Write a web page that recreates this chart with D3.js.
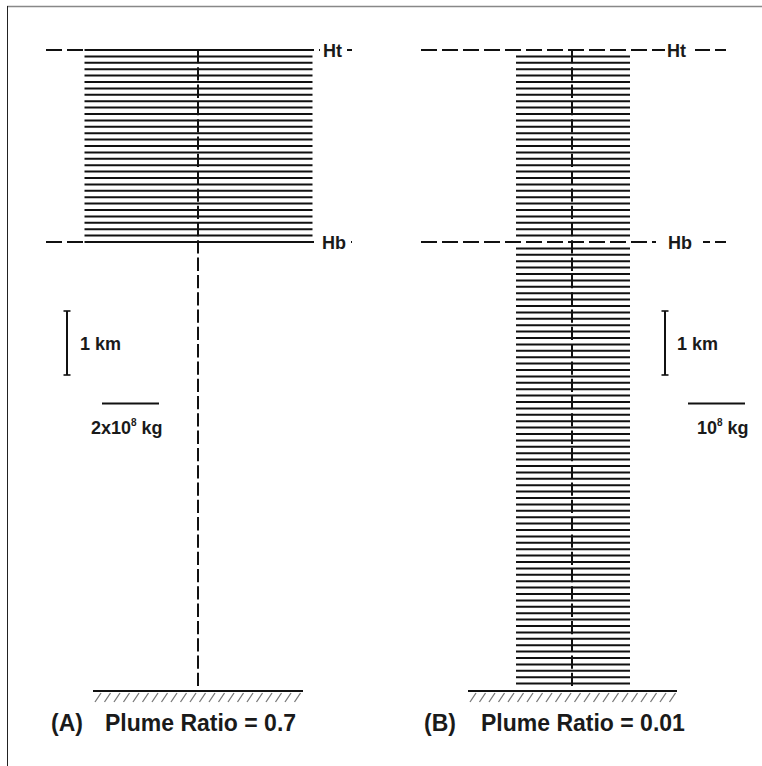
<!DOCTYPE html>
<html><head><meta charset="utf-8">
<script src="https://cdn.jsdelivr.net/npm/d3@7"></script>
<style>
body{margin:0;background:#fff}
svg{display:block;font-family:"Liberation Sans",Arial,Helvetica,sans-serif;font-weight:bold}
</style></head><body>
<script>
// ---- data (heights in km, layer mass in units of 1e8 kg) ----
const heightsA = [7.0,7.1,7.2,7.3,7.4,7.5,7.6,7.7,7.8,7.9,8.0,8.1,8.2,8.3,8.4,8.5,8.6,8.7,8.8,8.9,9.0,9.1,9.2,9.3,9.4,9.5,9.6,9.7,9.8,9.9,10.0];
const massA = [8,8,8,8,8,8,8,8,8,8,8,8,8,8,8,8,8,8,8,8,8,8,8,8,8,8,8,8,8,8,8];
const heightsB = [0.1,0.2,0.3,0.4,0.5,0.6,0.7,0.8,0.9,1.0,1.1,1.2,1.3,1.4,1.5,1.6,1.7,1.8,1.9,2.0,
  2.1,2.2,2.3,2.4,2.5,2.6,2.7,2.8,2.9,3.0,3.1,3.2,3.3,3.4,3.5,3.6,3.7,3.8,3.9,4.0,
  4.1,4.2,4.3,4.4,4.5,4.6,4.7,4.8,4.9,5.0,5.1,5.2,5.3,5.4,5.5,5.6,5.7,5.8,5.9,6.0,
  6.1,6.2,6.3,6.4,6.5,6.6,6.7,6.8,6.9,7.1,7.2,7.3,7.4,7.5,7.6,7.7,7.8,7.9,8.0,
  8.1,8.2,8.3,8.4,8.5,8.6,8.7,8.8,8.9,9.0,9.1,9.2,9.3,9.4,9.5,9.6,9.7,9.8,9.9];
const massB = [2,2,2,2,2,2,2,2,2,2,2,2,2,2,2,2,2,2,2,2,
  2,2,2,2,2,2,2,2,2,2,2,2,2,2,2,2,2,2,2,2,
  2,2,2,2,2,2,2,2,2,2,2,2,2,2,2,2,2,2,2,2,
  2,2,2,2,2,2,2,2,2,2,2,2,2,2,2,2,2,2,2,
  2,2,2,2,2,2,2,2,2,2,2,2,2,2,2,2,2,2,2];
const levelNames = ["Ht","Hb"];
const levelsKm = [10, 7];
const panelLabels = ["(A)","(B)"];
const panelTitles = ["Plume Ratio = 0.7","Plume Ratio = 0.01"];
const scaleMassA = 2; // 2x10^8 kg
const scaleMassB = 1; // 10^8 kg

const W = 762, H = 766;
const svg = d3.select("body").append("svg").attr("width", W).attr("height", H);

// frame
svg.append("line").attr("x1",7).attr("x2",W).attr("y1",6.5).attr("y2",6.5).attr("stroke","#888").attr("stroke-width",1.5);
svg.append("line").attr("x1",7.5).attr("x2",7.5).attr("y1",6).attr("y2",H).attr("stroke","#222").attr("stroke-width",1);

const y = d3.scaleLinear().domain([0,10]).range([690,50]);

const panels = [
  {heights:heightsA, mass:massA, cx:198.5, lineX:198, x: d3.scaleLinear().domain([0,2]).range([0,57]),
   hx1:46, hx2:352, tx:[323,322], pad:[[3,5],[3,5]], gx1:93, gx2:303, unit:scaleMassA,
   kmX:67, kmTx:80, barX:102, unitTx:91, lab:panelLabels[0], labX:51, title:panelTitles[0], titleX:105, supPrefix:"2x10"},
  {heights:heightsB, mass:massB, cx:573, lineX:572, x: d3.scaleLinear().domain([0,1]).range([0,57]),
   hx1:421, hx2:726, tx:[667,668], pad:[[2,9],[12,11]], gx1:468, gx2:677, unit:scaleMassB,
   kmX:665, kmTx:677, barX:688, unitTx:697, lab:panelLabels[1], labX:424, title:panelTitles[1], titleX:481, supPrefix:"10"}
];

panels.forEach(p => {
  const g = svg.append("g");
  // dashed level lines
  levelsKm.forEach((h,i) => {
    g.append("line").attr("x1",p.hx1).attr("x2",p.hx2).attr("y1",y(h)).attr("y2",y(h))
      .attr("stroke","#111").attr("stroke-width",2).attr("stroke-dasharray","16,5");
  });
  // layer bars
  g.selectAll("line.layer").data(p.heights.map((h,i)=>({h, m:p.mass[i]}))).join("line")
    .attr("class","layer")
    .attr("x1", d => p.cx - p.x(d.m)/2).attr("x2", d => p.cx + p.x(d.m)/2)
    .attr("y1", d => y(d.h)).attr("y2", d => y(d.h))
    .attr("stroke","#111").attr("stroke-width",2);
  // central dashed column
  g.append("line").attr("x1",p.lineX).attr("x2",p.lineX).attr("y1",y(10)).attr("y2",y(0))
    .attr("stroke","#111").attr("stroke-width",2).attr("stroke-dasharray","13.3,4");
  // level labels
  levelsKm.forEach((h,i) => {
    const t = g.append("text").attr("x",p.tx[i]).attr("y",y(h)+6.5).attr("font-size",18).attr("fill","#1a1a1a").text(levelNames[i]);
    const bb = t.node().getBBox();
    g.insert("rect","text").attr("x",bb.x-p.pad[i][0]).attr("y",y(h)-3).attr("width",bb.width+p.pad[i][0]+p.pad[i][1]).attr("height",6).attr("fill","#fff");
  });
  // ground
  g.append("line").attr("x1",p.gx1).attr("x2",p.gx2).attr("y1",691).attr("y2",691).attr("stroke","#111").attr("stroke-width",2);
  for (let xx = p.gx1 + 2; xx < p.gx2 - 4; xx += 9.5) {
    g.append("line").attr("x1",xx).attr("y1",702).attr("x2",xx+6).attr("y2",693)
      .attr("stroke","#777").attr("stroke-width",1.3);
  }
  // 1 km scale bar
  const kmTop = 311, kmLen = y(0) - y(1);
  g.append("line").attr("x1",p.kmX).attr("x2",p.kmX).attr("y1",kmTop).attr("y2",kmTop+kmLen).attr("stroke","#111").attr("stroke-width",2);
  [kmTop, kmTop+kmLen].forEach(yy => g.append("line").attr("x1",p.kmX-3.5).attr("x2",p.kmX+3.5).attr("y1",yy).attr("y2",yy).attr("stroke","#111").attr("stroke-width",1.6));
  g.append("text").attr("x",p.kmTx).attr("y",349.5).attr("font-size",18).attr("fill","#1a1a1a").text("1 km");
  // mass scale bar
  g.append("line").attr("x1",p.barX).attr("x2",p.barX + p.x(p.unit)).attr("y1",403.5).attr("y2",403.5).attr("stroke","#111").attr("stroke-width",2);
  const mt = g.append("text").attr("x",p.unitTx).attr("y",434).attr("font-size",18).attr("fill","#1a1a1a");
  mt.append("tspan").text(p.supPrefix);
  mt.append("tspan").attr("font-size",10).attr("dy",-8).text("8");
  mt.append("tspan").attr("dy",8).text(" kg");
  // panel title
  g.append("text").attr("x",p.labX).attr("y",731).attr("font-size",23).attr("fill","#1a1a1a").text(p.lab);
  g.append("text").attr("x",p.titleX).attr("y",731).attr("font-size",23).attr("fill","#1a1a1a").text(p.title);
});
</script>
</body></html>
